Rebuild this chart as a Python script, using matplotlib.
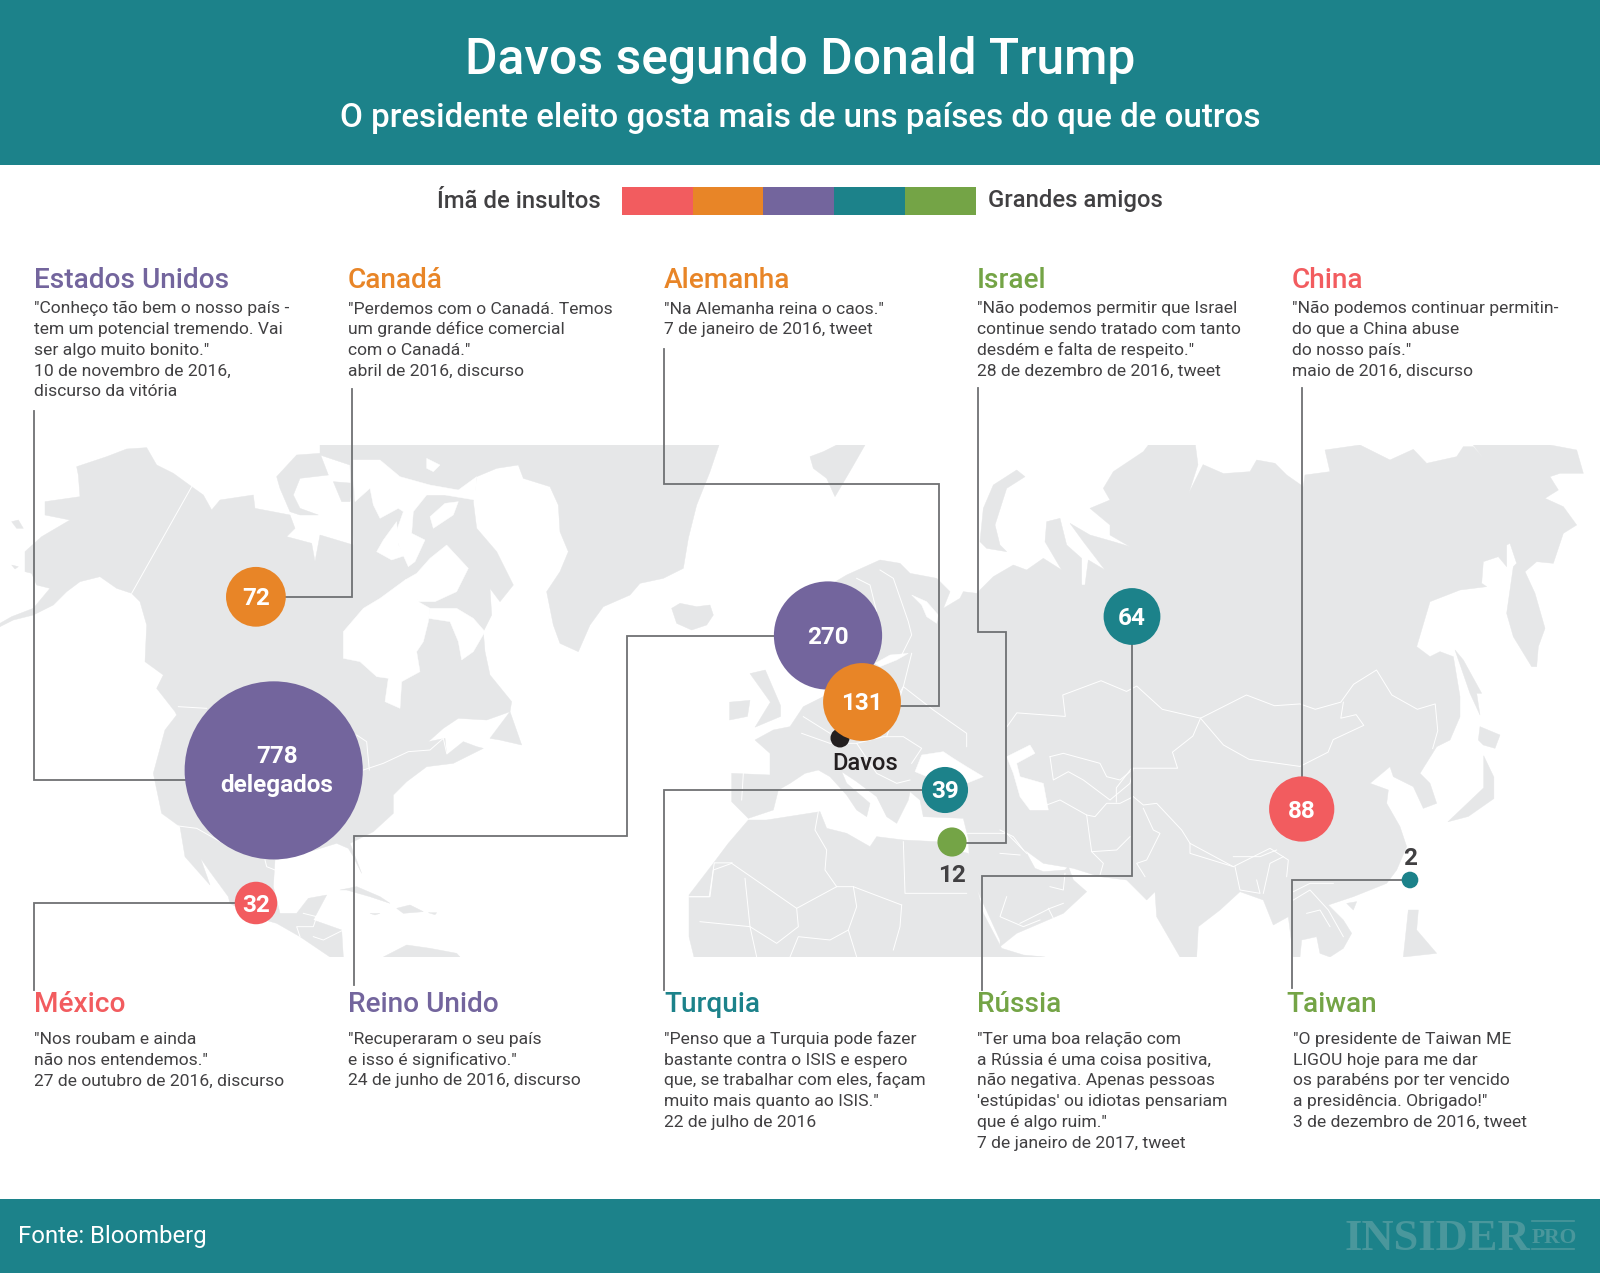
# plot.py
# Davos segundo Donald Trump - bubble map with quotes
import matplotlib
matplotlib.use("Agg")
import matplotlib.pyplot as plt
import numpy as np
from matplotlib.patches import Circle, Polygon, Rectangle

TEAL = "#1C828A"
PURPLE = "#73659D"
ORANGE = "#E88527"
RED = "#F25C5F"
GREEN = "#74A446"
LAND = "#E6E7E8"
TEXT = "#414042"
LINE = "#6F7173"

plt.rcParams["font.family"] = ["Roboto", "DejaVu Sans"]

# delegates per country
countries = ["Estados Unidos", "Canadá", "Alemanha", "Israel", "China",
             "México", "Reino Unido", "Turquia", "Rússia", "Taiwan"]
delegates = [778, 72, 131, 12, 88, 32, 270, 39, 64, 2]
bubble_colors = [PURPLE, ORANGE, ORANGE, GREEN, RED, RED, PURPLE, TEAL, TEAL, TEAL]
heading_colors = [PURPLE, ORANGE, ORANGE, GREEN, RED, RED, PURPLE, TEAL, GREEN, GREEN]
# bubble centres on the map picture, pixels
bubble_x = [273.7, 255.9, 862, 952, 1301.7, 256, 828, 945, 1132, 1410]
bubble_y = [770.4, 596.8, 702, 842, 809, 903, 635.5, 790, 616.5, 880]

quotes = [
    ['"Conheço tão bem o nosso país -', 'tem um potencial tremendo. Vai', 'ser algo muito bonito."',
     '10 de novembro de 2016,', 'discurso da vitória'],
    ['"Perdemos com o Canadá. Temos', 'um grande défice comercial', 'com o Canadá."', 'abril de 2016, discurso'],
    ['"Na Alemanha reina o caos."', '7 de janeiro de 2016, tweet'],
    ['"Não podemos permitir que Israel', 'continue sendo tratado com tanto', 'desdém e falta de respeito."',
     '28 de dezembro de 2016, tweet'],
    ['"Não podemos continuar permitin-', 'do que a China abuse', 'do nosso país."', 'maio de 2016, discurso'],
    ['"Nos roubam e ainda', 'não nos entendemos."', '27 de outubro de 2016, discurso'],
    ['"Recuperaram o seu país', 'e isso é significativo."', '24 de junho de 2016, discurso'],
    ['"Penso que a Turquia pode fazer', 'bastante contra o ISIS e espero', 'que, se trabalhar com eles, façam',
     'muito mais quanto ao ISIS."', '22 de julho de 2016'],
    ['"Ter uma boa relação com', 'a Rússia é uma coisa positiva,', 'não negativa. Apenas pessoas',
     "'estúpidas' ou idiotas pensariam", 'que é algo ruim."', '7 de janeiro de 2017, tweet'],
    ['"O presidente de Taiwan ME', 'LIGOU hoje para me dar', 'os parabéns por ter vencido',
     'a presidência. Obrigado!"', '3 de dezembro de 2016, tweet'],
]
block_x = [34, 348, 664, 977, 1292, 34, 348, 664, 977, 1286]
legend_colors = [RED, ORANGE, PURPLE, TEAL, GREEN]

# connector routes, one per country, bubble end last
routes = [
    [(33.5, 411), (33.5, 780), (190, 780)],
    [(351.5, 389), (351.5, 597), (283, 597)],
    [(664.3, 349), (664.3, 484), (938.8, 484), (938.8, 705.7), (890, 705.7)],
    [(978, 388), (978, 632), (1005.6, 632), (1005.6, 843), (966, 843)],
    [(1301.5, 388), (1301.5, 780)],
    [(34, 990), (34, 903), (240, 903)],
    [(354, 985), (354, 836.4), (627, 836.4), (627, 635.7), (780, 635.7)],
    [(664.3, 990), (664.3, 790.4), (930, 790.4)],
    [(982, 990), (982, 876), (1132, 876), (1132, 640)],
    [(1292, 988), (1292, 880), (1405, 880)],
]

EAST = (800, 420, 1.96, 2.8)
WEST = (0, 420, 1.96, 2.8)
FAR = (1250, 440, 3, 3)
MED = (690, 620, 3, 3)
Z1 = (0, 445, 3, 3)
Z2 = (330, 445, 3, 3)
Z3 = (780, 445, 3, 3)
Z4 = (1000, 740, 3, 3)
Z5 = (140, 700, 3, 3)


def px(pts, frame):
    x0, y0, sx, sy = frame
    return [(x0 + x / sx, y0 + y / sy) for x, y in pts]


north_america = (
    px([(230, 65), (320, 35), (380, 12), (440, 8), (470, 60), (520, 85), (575, 125), (610, 150), (635, 195),
        (660, 165), (760, 150), (765, 190), (870, 210), (885, 250), (860, 275), (935, 295), (945, 350), (960, 270),
        (1060, 300)], Z1)
    + px([(70, 290), (60, 60), (-30, 30), (-30, 0), (1167, 0), (1140, 80), (1100, 180), (1075, 280), (1060, 370),
          (1000, 400), (930, 415), (900, 450), (820, 485), (780, 540), (745, 620), (690, 595), (670, 540), (650, 440),
          (690, 380), (715, 320), (690, 260), (685, 180), (660, 125), (580, 100), (565, 60), (500, 70), (440, 95),
          (430, 170), (440, 250), (500, 320), (550, 420), (510, 470), (480, 430), (485, 510), (460, 560), (465, 620),
          (480, 690), (545, 770), (540, 800), (470, 825), (385, 820), (340, 850), (295, 890), (345, 880), (350, 930),
          (400, 890), (440, 905), (460, 910), (370, 955), (290, 965), (230, 1010), (190, 1050)], Z2)
    + px([(760, 340), (700, 395), (630, 430), (665, 520), (640, 470), (625, 445), (590, 430), (525, 450), (405, 480),
          (400, 560), (420, 640), (470, 640), (505, 595), (560, 585), (520, 660), (605, 690), (610, 771), (570, 771),
          (480, 710), (410, 670), (340, 650), (270, 610), (265, 590), (210, 515), (175, 465), (150, 395), (180, 470),
          (210, 555), (135, 470), (120, 380), (65, 340), (40, 220), (75, 90), (110, 45)], Z5)
    + px([(525, 800), (470, 730), (490, 690), (435, 650), (440, 540), (420, 470), (395, 445), (350, 430), (300, 395),
          (240, 410), (200, 440), (160, 480), (100, 510), (40, 525), (0, 545), (0, 535), (35, 515), (100, 490),
          (150, 430), (110, 420), (95, 385), (75, 380), (75, 320), (125, 275), (210, 225), (135, 210), (135, 170),
          (240, 155), (235, 90)], Z1)
)
islands = [
    px([(830, 95), (890, 30), (960, 25), (985, 90), (900, 100), (880, 150), (900, 190), (955, 210), (900, 210),
        (870, 200), (840, 130)], Z1),
    px([(1000, 0), (1060, 0), (1060, 40), (1000, 30)], Z1),
    px([(1000, 110), (1060, 115), (1050, 170), (1025, 170)], Z1),
    px([(35, 230), (55, 225), (70, 250), (50, 250)], Z1),
    px([(35, 360), (55, 365), (45, 372)], Z1),
    px([(480, 880), (540, 800), (575, 900), (510, 885)], Z2),
    px([(1025, 490), (1050, 475), (1100, 485), (1140, 480), (1150, 510), (1130, 540), (1085, 555), (1040, 535)], Z2),
    px([(600, 570), (650, 560), (720, 590), (750, 610), (690, 590), (620, 570)], Z5),
    px([(770, 625), (810, 615), (850, 635), (790, 640)], Z5),
    px([(690, 640), (720, 640), (705, 645)], Z5),
    px([(865, 638), (890, 638), (885, 644)], Z5),
    px([(730, 771), (800, 735), (870, 745), (950, 760), (960, 771)], Z5),
    px([(90, 35), (130, 20), (170, 0), (255, 0), (215, 70), (165, 155), (140, 100), (100, 70)], Z3),
    px([(600, 290), (610, 190), (640, 120), (710, 75), (735, 95), (680, 130), (645, 240), (660, 300), (680, 320),
        (620, 310)], Z3),
    px([(615, 630), (640, 660), (695, 760), (680, 760), (690, 825), (660, 760)], FAR),
    px([(690, 860), (750, 885), (735, 925), (700, 915), (685, 900)], FAR),
    px([(1270, 1125), (1340, 1030), (1340, 940), (1360, 1000), (1360, 1060), (1310, 1110)], EAST),
    px([(1040, 490), (1070, 485), (1060, 510)], Z4),
    px([(1225, 510), (1255, 510), (1250, 570), (1310, 640), (1210, 651)], Z4),
    px([(1470, 710), (1500, 700), (1530, 800), (1530, 830), (1480, 860), (1510, 790)], WEST),
    px([(1430, 790), (1470, 785), (1465, 830), (1430, 840)], WEST),
]
eurasia = (
    px([(150, 420), (200, 390), (300, 345), (360, 355), (390, 385), (470, 400), (510, 440), (490, 490), (540, 460),
        (550, 440), (590, 445), (640, 395), (700, 360), (740, 375), (790, 340), (845, 375), (795, 290), (800, 230),
        (840, 220), (860, 300), (905, 340), (905, 420), (865, 420), (915, 420), (925, 345), (975, 375), (910, 290),
        (870, 235), (930, 270), (1000, 290), (1050, 305), (990, 270), (990, 240), (930, 190), (990, 165), (970, 130),
        (1000, 80), (1090, 20), (1105, 0)], Z3)
    + px([(775, 70), (780, 125), (762, 205), (790, 125), (830, 150)], EAST)
    + px([(0, 95), (20, 60), (75, 70), (110, 105), (160, 140), (165, 105), (240, 95), (225, 30), (330, 15),
          (380, 40), (420, 60), (490, 28), (530, 70), (620, 50), (640, 20), (670, 20), (700, 55), (670, 15),
          (900, 15), (980, 30), (1000, 100), (930, 100), (900, 110), (925, 150), (885, 175), (940, 200), (980, 255),
          (940, 280), (910, 370), (860, 365), (825, 395), (855, 460), (885, 565), (865, 620), (860, 680), (845, 680),
          (790, 590), (770, 520), (790, 380), (800, 370), (780, 310), (770, 315), (770, 380), (745, 350), (700, 365),
          (695, 430), (710, 440), (630, 450), (540, 485), (500, 620), (540, 650), (570, 635), (610, 650), (630, 770),
          (630, 830), (600, 900), (560, 920), (510, 1000)], FAR)
    + px([(1290, 130), (1310, 190), (1270, 205), (1240, 140), (1180, 110), (1170, 80), (1110, 130), (1165, 150),
          (1160, 190), (1200, 260), (1220, 320), (1190, 390), (1160, 430), (1060, 470), (985, 495), (1030, 540),
          (1055, 580), (1030, 625), (990, 651), (960, 640), (950, 590), (905, 600), (900, 651), (880, 651), (865, 530),
          (820, 555), (790, 480), (720, 455), (660, 510), (595, 560), (590, 651), (540, 651), (470, 530), (465, 455),
          (440, 480), (400, 440), (380, 420), (300, 410), (220, 385), (130, 370), (75, 330), (105, 385), (130, 395),
          (195, 390), (205, 380), (220, 420), (260, 455), (190, 520), (50, 580), (0, 620)], Z4)
    + px([(930, 960), (880, 850), (840, 760), (835, 655), (820, 595), (700, 590), (690, 540), (660, 515), (655, 540),
          (620, 610), (590, 590), (560, 530), (500, 485), (455, 455), (470, 490), (540, 550), (530, 590), (500, 570),
          (470, 525), (420, 470), (385, 450), (345, 460), (300, 490), (265, 510), (250, 570), (175, 595), (125, 545),
          (125, 460), (240, 465), (240, 400), (195, 360), (250, 330), (300, 320), (340, 260), (420, 220)], MED)
)
africa = px([
    (175, 600), (230, 600), (390, 575), (410, 625), (470, 640), (540, 680), (560, 650), (640, 660), (740, 665),
    (790, 690), (835, 700), (880, 880), (935, 985), (1000, 1005), (1065, 1011), (12, 1011), (-3, 950), (-3, 825),
    (70, 730), (115, 670)], MED)
water = [
    # arctic channels, Hudson Bay
    px([(70, 45), (150, 45), (210, 95), (300, 120), (385, 135), (440, 95), (435, 165), (345, 150), (290, 150),
        (250, 200), (245, 265), (285, 285), (255, 350), (235, 365), (210, 310), (195, 270), (220, 200), (205, 190),
        (150, 220), (130, 180), (120, 130), (75, 170), (70, 100)], Z2),
    px([(225, 405), (260, 385), (300, 340), (350, 300), (415, 370), (380, 440), (315, 470), (265, 470)], Z2),
    px([(300, 490), (380, 490), (430, 520), (465, 560), (430, 620), (395, 645), (385, 590), (360, 530), (295, 520)], Z2),
    px([(40, 560), (100, 490), (150, 460), (225, 405), (250, 400), (265, 470), (300, 490), (295, 530), (280, 590),
        (260, 620), (270, 680), (215, 710), (210, 790), (165, 770), (175, 700), (140, 695), (90, 650), (40, 640)], Z2),
    px([(160, 285), (200, 230), (205, 300), (230, 330), (185, 345), (140, 320)], Z2),
    px([(300, 215), (345, 175), (385, 170), (370, 210), (310, 250)], Z2),
    px([(290, 40), (330, 60), (310, 80), (290, 70)], Z2),
    # White Sea, Gulf of Finland, Black Sea, Caspian
    px([(395, 450), (440, 470), (475, 510), (470, 535), (440, 515), (425, 480)], Z3),
    px([(555, 130), (600, 105), (655, 100), (620, 120), (570, 140)], MED),
    px([(675, 455), (695, 405), (760, 395), (790, 415), (830, 440), (880, 470), (830, 490), (760, 490)], MED),
    px([(20, 50), (90, 15), (105, 40), (50, 70), (60, 110), (130, 130), (145, 210), (90, 210), (60, 170), (40, 100)], Z4),
]
borders = [
    px([(395, 445), (575, 125)], Z1),
    px([(535, 785), (620, 790)], Z1),
    px([(100, 975), (160, 955), (235, 920), (300, 915), (340, 880), (350, 925)], Z2),
    px([(80, 870), (110, 890), (118, 975)], Z2),
    px([(115, 378), (170, 385), (250, 430)], Z5),
    px([(375, 480), (380, 500), (405, 510)], Z5),
    px([(490, 640), (530, 650), (520, 680), (470, 680), (480, 710)], Z5),
    px([(520, 710), (550, 720), (610, 690)], Z5),
    px([(1435, 1240), (1400, 1240), (1390, 1335), (1350, 1335)], WEST),
    px([(405, 860), (425, 820), (520, 830), (515, 770), (590, 730), (640, 760), (660, 745), (710, 810), (785, 835)], EAST),
    px([(785, 835), (875, 770), (930, 800), (980, 795), (1010, 810), (1060, 790), (1085, 740), (1130, 700), (1160, 770),
        (1210, 810), (1245, 795), (1250, 870), (1240, 920)], EAST),
    px([(785, 835), (830, 910), (880, 950), (980, 970), (1035, 930), (1045, 895), (1105, 855), (1090, 825), (1060, 835),
        (1065, 790)], EAST),
    px([(785, 835), (770, 885), (730, 930), (740, 975), (650, 975), (620, 1030), (620, 1070)], EAST),
    # central and south Asia
    px([(150, 50), (160, 120), (205, 95), (250, 120), (330, 180), (390, 130), (400, 85)], Z4),
    px([(150, 50), (190, 40), (300, 70), (320, 110), (360, 120), (390, 95)], Z4),
    px([(140, 195), (180, 180), (260, 225), (270, 300), (275, 335), (350, 330), (390, 290)], Z4),
    px([(260, 225), (285, 230), (320, 190), (360, 190), (400, 170)], Z4),
    px([(275, 335), (310, 370), (300, 405)], Z4),
    px([(400, 170), (430, 195), (470, 190), (545, 270), (570, 310), (700, 380), (810, 325), (865, 360), (860, 410)], Z4),
    px([(570, 310), (570, 340), (700, 380)], Z4),
    px([(430, 205), (460, 270), (480, 280), (440, 360), (410, 370), (435, 410)], Z4),
    px([(700, 350), (780, 350), (830, 330)], Z4),
    px([(705, 380), (720, 450), (780, 460), (770, 420)], Z4),
    px([(850, 350), (810, 370), (790, 460)], Z4),
    px([(880, 455), (930, 430), (1000, 430)], Z4),
    px([(880, 480), (930, 450), (985, 510), (1030, 590)], Z4),
    px([(920, 520), (960, 510), (990, 560)], Z4),
    px([(150, 440), (190, 450), (195, 400)], Z4),
    px([(60, 550), (150, 505), (190, 490)], Z4),
    px([(145, 505), (165, 545)], Z4),
    px([(0, 270), (40, 290), (70, 330)], Z4),
    px([(0, 340), (60, 345)], Z4),
    # north Africa, Europe, Near East
    px([(125, 730), (320, 865), (440, 800), (490, 800), (635, 855)], MED),
    px([(640, 665), (645, 820), (830, 820)], MED),
    px([(165, 775), (180, 920)], MED),
    px([(385, 575), (375, 630), (410, 690), (405, 750), (440, 800)], MED),
    px([(635, 855), (630, 920), (610, 990)], MED),
    px([(320, 865), (325, 920), (260, 970), (180, 920), (30, 905)], MED),
    px([(125, 730), (70, 750), (60, 830), (0, 830)], MED),
    px([(490, 800), (500, 860), (475, 930), (500, 1011)], MED),
    px([(180, 920), (200, 1011)], MED),
    px([(300, 1011), (325, 950), (420, 960), (475, 930)], MED),
    px([(600, 270), (640, 200), (730, 270), (830, 340), (830, 380)], MED),
    px([(335, 340), (420, 370), (500, 370), (580, 350), (640, 350), (695, 385), (665, 430)], MED),
    px([(340, 290), (420, 340)], MED),
    px([(160, 460), (155, 540)], MED),
    px([(500, 370), (560, 460), (620, 490), (660, 480)], MED),
    px([(950, 830), (930, 890), (1000, 920), (1050, 900)], MED),
    px([(830, 640), (880, 640), (950, 640), (1010, 700)], MED),
    px([(590, 350), (640, 200), (665, 100)], MED),
    # Finland and Norway
    px([(300, 375), (340, 400), (385, 530), (395, 570), (365, 630)], Z3),
    px([(230, 400), (270, 420), (290, 500)], Z3),
]

fig = plt.figure(figsize=(16, 12.73), dpi=100)
ax = fig.add_axes([0, 0, 1, 1])
ax.set_xlim(0, 1600)
ax.set_ylim(1273, 0)
ax.axis("off")

# header and footer bands
ax.add_patch(Rectangle((0, 0), 1600, 165, color=TEAL, lw=0))
ax.add_patch(Rectangle((0, 1199), 1600, 74, color=TEAL, lw=0))
ax.text(800, 74, "Davos segundo Donald Trump", color="white", fontsize=35.8, fontweight="medium", ha="center")
ax.text(800, 126.7, "O presidente eleito gosta mais de uns países do que de outros", color="white",
        fontsize=23.9, fontweight="medium", ha="center")
ax.text(18.5, 1243, "Fonte: Bloomberg", color="white", fontsize=17.2)

# legend strip
ax.text(601, 207.5, "Ímã de insultos", color=TEXT, fontsize=17.2, fontweight="medium", ha="right")
for i, c in enumerate(legend_colors):
    ax.add_patch(Rectangle((622 + i * 70.7, 187), 70.7, 28, color=c, lw=0))
ax.text(988.5, 207.5, "Grandes amigos", color=TEXT, fontsize=17.2, fontweight="medium")

# world map, cut at the top and bottom like the picture
clip = Rectangle((0, 445), 1600, 512, transform=ax.transData)
for shape in [north_america, eurasia, africa] + islands:
    p = Polygon(shape, closed=True, fc=LAND, ec=LAND, lw=0.3, zorder=1)
    ax.add_patch(p)
    p.set_clip_path(clip)
for shape in water:
    ax.add_patch(Polygon(shape, closed=True, fc="white", ec="white", lw=0.3, zorder=2))
for line in borders:
    xs, ys = zip(*line)
    ax.plot(xs, ys, color="white", lw=0.7, zorder=3, clip_path=clip)

# connectors
for route in routes:
    xs, ys = zip(*route)
    ax.plot(xs, ys, color=LINE, lw=1.3, zorder=4, solid_joinstyle="miter")

# bubbles: area follows the delegate count, smaller ones on top
radius = 4 + 3.05 * np.sqrt(delegates)
for x, y, r, c, v in zip(bubble_x, bubble_y, radius, bubble_colors, delegates):
    z = 5 + (1000 - v) / 1000
    ax.add_patch(Circle((x, y), r, fc=c, ec="none", zorder=z))
    if v == 778:
        ax.text(x + 3, 763, str(v), color="white", fontsize=17.5, fontweight="bold", ha="center", zorder=7)
        ax.text(x + 3, 792, "delegados", color="white", fontsize=17.5, fontweight="bold", ha="center", zorder=7)
    elif v == 12:
        ax.text(x, y + 40, str(v), color=TEXT, fontsize=17.5, fontweight="bold", ha="center", zorder=7)
    elif v == 2:
        ax.text(x, y - 15, str(v), color=TEXT, fontsize=17.5, fontweight="bold", ha="center", zorder=7)
    else:
        ax.text(x, y + 8.5, str(v), color="white", fontsize=17.5, fontweight="bold", ha="center", zorder=7)

# Davos marker
ax.add_patch(Circle((840, 738), 9.5, fc="#231F20", ec="none", zorder=5.5))
ax.text(832.5, 770, "Davos", color="#231F20", fontsize=17, fontweight="medium", zorder=7)

# quote blocks, upper row then lower row
for i, name in enumerate(countries):
    top = i < 5
    head_y = 287.5 if top else 1012
    first_y = 313.5 if top else 1044
    ax.text(block_x[i], head_y, name, color=heading_colors[i], fontsize=20.2, fontweight="medium")
    x = block_x[i] if i != 9 else 1293
    for j, txt in enumerate(quotes[i]):
        ax.text(x, first_y + j * 20.75, txt, color=TEXT, fontsize=12.6)

# logo
ax.text(1344, 1250, "INSIDER", color="#4A979C", fontsize=32, fontweight="bold", family="Liberation Serif")
ax.text(1532, 1243, "PRO", color="#4A979C", fontsize=15.5, fontweight="bold", family="Liberation Serif")
ax.plot([1532, 1574], [1220.5, 1220.5], color="#4A979C", lw=1.2)
ax.plot([1532, 1574], [1249, 1249], color="#4A979C", lw=1.2)

fig.savefig("out.png", dpi=100)
